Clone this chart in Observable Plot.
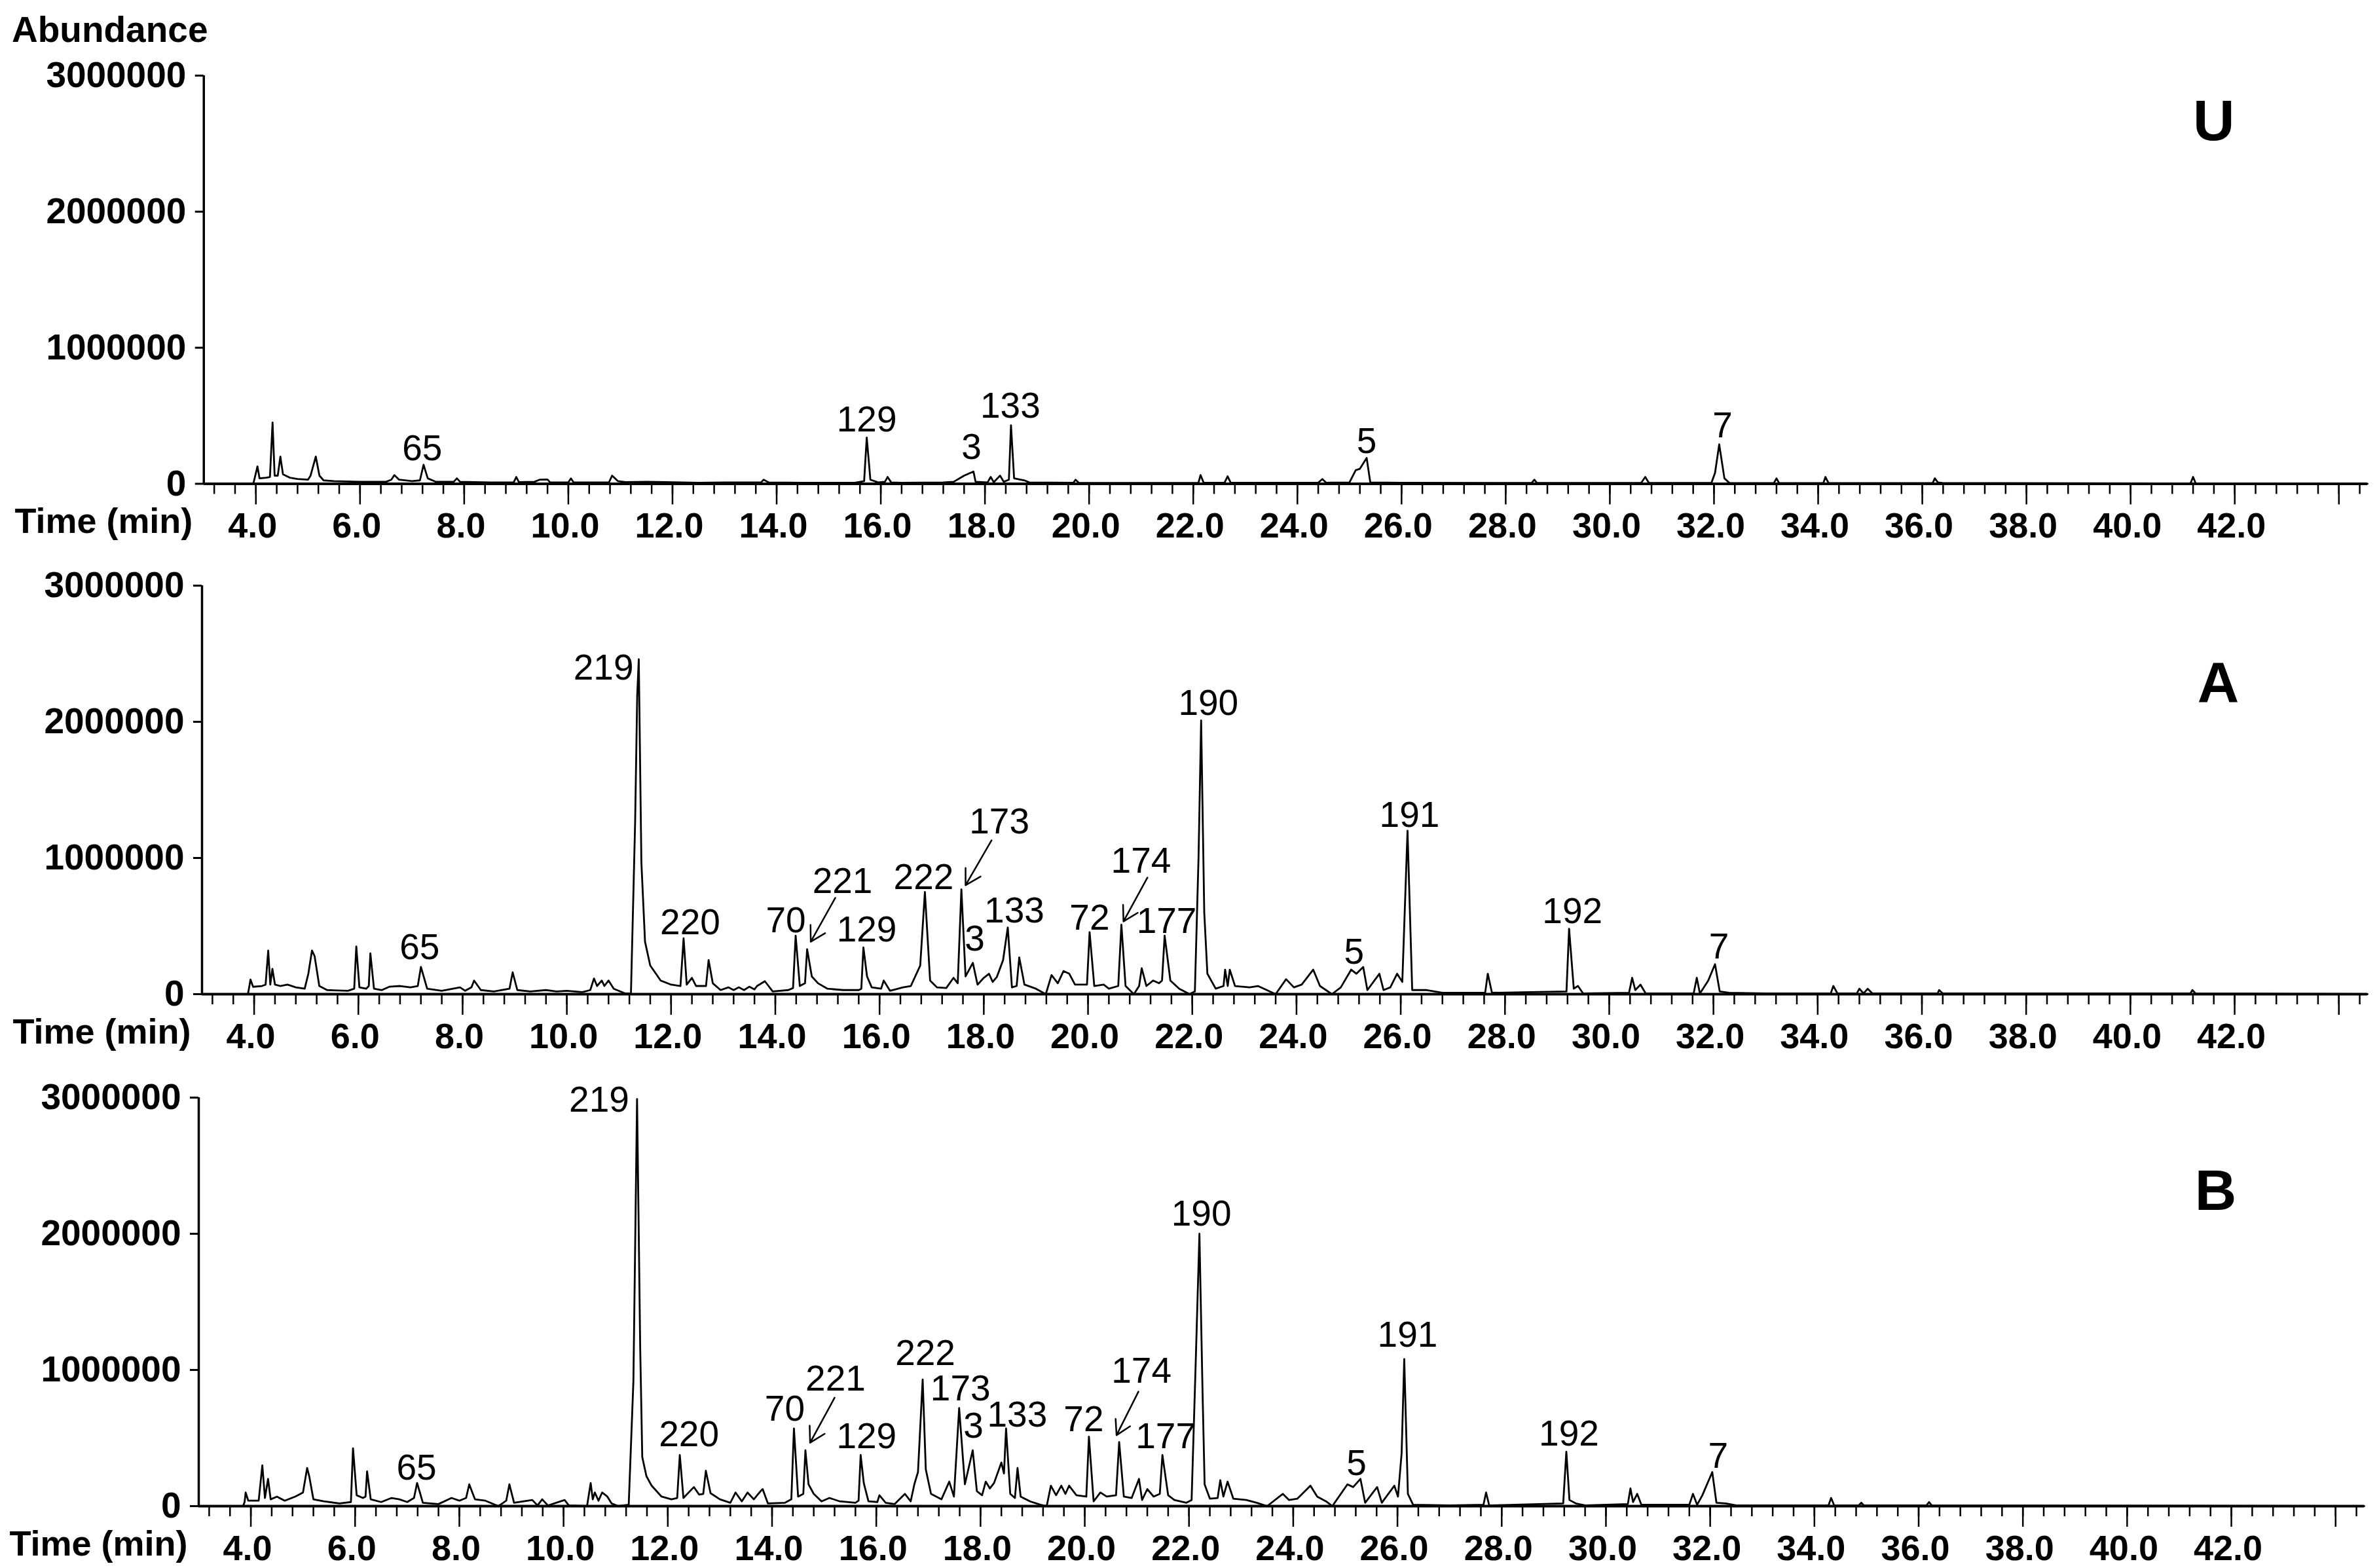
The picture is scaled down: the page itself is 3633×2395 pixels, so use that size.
<!DOCTYPE html>
<html><head><meta charset="utf-8">
<script src="https://cdn.jsdelivr.net/npm/d3@7"></script>
<script src="https://cdn.jsdelivr.net/npm/@observablehq/plot@0.6"></script>
<style>
html,body{margin:0;padding:0;background:#fff;}
body{width:3633px;height:2395px;position:relative;overflow:hidden;font-family:"Liberation Sans",Arial,sans-serif;}
.panel{position:absolute;}
#abund{position:absolute;left:18px;top:18px;font-size:55px;font-weight:bold;line-height:55px;color:#000;}
</style></head><body>
<div id="abund">Abundance</div>
<div id="pU" class="panel"></div>
<div id="pA" class="panel"></div>
<div id="pB" class="panel"></div>
<script>
// ---------- axis ticks ----------
const yTicks = [0, 1000000, 2000000, 3000000];
const xLabelTicks = [4, 6, 8, 10, 12, 14, 16, 18, 20, 22, 24, 26, 28, 30, 32, 34, 36, 38, 40, 42];
const xMajorTicks = [4, 6, 8, 10, 12, 14, 16, 18, 20, 22, 24, 26, 28, 30, 32, 34, 36, 38, 40, 42, 44];
const xMinorTicks = d3.range(8, 112).map(i => +(i * 0.4).toFixed(1));

// ---------- traces [time (min), abundance] ----------
const traceU = [
[3.0,0],[3.95,0],[3.97,30000],[4.03,128000],[4.07,40000],[4.2,45000],[4.27,50000],[4.32,450000],[4.36,60000],[4.42,60000],[4.47,200000],[4.52,70000],[4.65,45000],[4.8,35000],[5.0,30000],[5.05,60000],[5.15,200000],[5.22,60000],[5.3,25000],[5.5,20000],[6.0,15000],[6.5,15000],[6.6,30000],[6.66,64000],[6.75,30000],[7.0,20000],[7.15,25000],[7.22,140000],[7.3,40000],[7.45,15000],[7.8,15000],[7.86,40000],[7.92,15000],[8.5,10000],[8.95,10000],[9.0,50000],[9.05,12000],[9.35,15000],[9.45,30000],[9.6,32000],[9.65,10000],[10.0,10000],[10.05,40000],[10.1,10000],[10.78,10000],[10.84,60000],[10.95,20000],[11.1,12000],[11.5,15000],[12.5,8000],[13.0,10000],[13.7,10000],[13.75,30000],[13.85,10000],[14.5,8000],[15.5,8000],[15.68,20000],[15.73,340000],[15.8,30000],[15.95,10000],[16.08,15000],[16.13,50000],[16.2,10000],[16.4,8000],[17.2,10000],[17.4,15000],[17.6,60000],[17.78,90000],[17.82,15000],[18.05,10000],[18.11,50000],[18.17,12000],[18.29,60000],[18.36,15000],[18.46,30000],[18.5,430000],[18.56,40000],[18.76,25000],[18.85,10000],[19.7,8000],[19.74,30000],[19.8,8000],[21.0,6000],[22.1,8000],[22.14,64000],[22.2,8000],[22.6,8000],[22.66,55000],[22.72,8000],[24.4,8000],[24.48,35000],[24.55,8000],[25.0,10000],[25.12,100000],[25.2,110000],[25.33,190000],[25.4,10000],[26.0,8000],[28.5,6000],[28.55,30000],[28.6,6000],[30.6,6000],[30.68,50000],[30.75,6000],[31.95,6000],[32.02,80000],[32.1,290000],[32.2,40000],[32.3,5000],[33.15,5000],[33.2,40000],[33.25,5000],[34.1,5000],[34.14,50000],[34.2,5000],[36.2,5000],[36.24,40000],[36.3,10000],[36.4,5000],[41.15,3000],[41.2,50000],[41.25,3000],[44.55,0]
];
const traceA = [
[3.0,0],[3.88,0],[3.9,40000],[3.93,107000],[3.98,54000],[4.15,60000],[4.22,70000],[4.27,320000],[4.31,70000],[4.35,186000],[4.4,70000],[4.5,60000],[4.64,70000],[4.8,50000],[4.97,40000],[5.04,150000],[5.11,320000],[5.16,280000],[5.25,60000],[5.4,30000],[5.8,25000],[5.92,40000],[5.96,350000],[6.02,50000],[6.15,40000],[6.2,60000],[6.23,300000],[6.3,40000],[6.45,30000],[6.6,55000],[6.8,60000],[7.0,50000],[7.14,60000],[7.2,200000],[7.32,40000],[7.6,25000],[7.95,50000],[8.05,25000],[8.17,50000],[8.22,100000],[8.35,30000],[8.6,20000],[8.9,40000],[8.96,160000],[9.05,30000],[9.3,20000],[9.6,30000],[9.8,20000],[10.0,25000],[10.3,15000],[10.45,30000],[10.52,115000],[10.58,60000],[10.67,100000],[10.72,60000],[10.8,100000],[10.9,40000],[11.12,5000],[11.23,5000],[11.31,1260000],[11.35,2190000],[11.38,2460000],[11.43,970000],[11.5,385000],[11.6,210000],[11.8,100000],[12.0,70000],[12.18,60000],[12.24,410000],[12.3,70000],[12.4,120000],[12.48,60000],[12.67,60000],[12.72,250000],[12.8,80000],[12.95,30000],[13.1,50000],[13.2,30000],[13.3,50000],[13.4,30000],[13.5,55000],[13.6,35000],[13.65,60000],[13.8,95000],[13.95,20000],[14.25,30000],[14.34,45000],[14.39,430000],[14.47,60000],[14.57,80000],[14.61,330000],[14.7,130000],[14.82,80000],[15.0,40000],[15.3,30000],[15.6,30000],[15.65,40000],[15.69,343000],[15.76,130000],[15.85,50000],[16.03,40000],[16.08,100000],[16.2,25000],[16.45,50000],[16.6,60000],[16.78,210000],[16.87,750000],[16.97,100000],[17.1,50000],[17.28,45000],[17.42,120000],[17.5,80000],[17.57,770000],[17.65,130000],[17.79,230000],[17.88,70000],[18.0,120000],[18.1,150000],[18.17,90000],[18.25,126000],[18.37,250000],[18.46,490000],[18.54,50000],[18.63,60000],[18.68,270000],[18.78,70000],[19.0,40000],[19.19,0],[19.3,140000],[19.42,80000],[19.53,170000],[19.64,150000],[19.75,70000],[19.98,70000],[20.03,455000],[20.12,60000],[20.3,70000],[20.4,40000],[20.58,60000],[20.64,510000],[20.72,60000],[20.88,0],[20.98,60000],[21.03,190000],[21.12,60000],[21.25,100000],[21.36,80000],[21.42,100000],[21.47,430000],[21.58,100000],[21.75,40000],[21.95,0],[22.05,20000],[22.12,1000000],[22.17,2010000],[22.23,600000],[22.29,150000],[22.45,40000],[22.6,60000],[22.63,180000],[22.68,60000],[22.72,180000],[22.82,60000],[23.1,50000],[23.26,60000],[23.6,0],[23.8,110000],[23.95,50000],[24.1,70000],[24.32,180000],[24.45,60000],[24.68,0],[24.85,50000],[25.05,180000],[25.15,150000],[25.28,200000],[25.36,30000],[25.59,150000],[25.67,30000],[25.8,50000],[25.93,150000],[26.03,90000],[26.13,1200000],[26.22,30000],[26.5,30000],[26.8,10000],[27.62,10000],[27.67,150000],[27.75,10000],[28.5,15000],[29.18,20000],[29.23,480000],[29.32,40000],[29.4,60000],[29.5,5000],[30.38,10000],[30.44,120000],[30.5,30000],[30.6,70000],[30.7,5000],[31.62,5000],[31.68,120000],[31.74,5000],[31.9,100000],[32.03,220000],[32.12,20000],[32.3,10000],[33.0,5000],[34.25,5000],[34.3,60000],[34.38,5000],[34.75,5000],[34.8,40000],[34.88,5000],[34.96,40000],[35.05,5000],[36.3,5000],[36.33,30000],[36.4,5000],[41.15,5000],[41.19,30000],[41.25,5000],[44.55,0]
];
const traceB = [
[3.0,0],[3.85,0],[3.88,30000],[3.9,100000],[3.95,40000],[4.15,40000],[4.22,300000],[4.27,60000],[4.33,200000],[4.38,50000],[4.5,70000],[4.65,40000],[4.85,70000],[5.0,100000],[5.08,280000],[5.12,220000],[5.2,50000],[5.4,35000],[5.7,20000],[5.92,30000],[5.96,425000],[6.03,80000],[6.15,60000],[6.2,70000],[6.23,255000],[6.3,50000],[6.5,30000],[6.7,60000],[6.85,50000],[7.0,30000],[7.13,60000],[7.19,170000],[7.3,25000],[7.6,15000],[7.85,60000],[8.0,40000],[8.13,60000],[8.19,160000],[8.3,50000],[8.5,40000],[8.75,0],[8.9,40000],[8.96,160000],[9.05,25000],[9.4,45000],[9.5,5000],[9.59,50000],[9.7,5000],[10.02,45000],[10.1,5000],[10.45,0],[10.52,170000],[10.56,50000],[10.6,100000],[10.67,40000],[10.74,100000],[10.84,70000],[10.92,20000],[11.05,0],[11.25,10000],[11.34,920000],[11.41,2990000],[11.47,1170000],[11.51,360000],[11.59,220000],[11.69,150000],[11.88,70000],[12.07,50000],[12.18,60000],[12.23,376000],[12.3,60000],[12.5,140000],[12.6,85000],[12.68,90000],[12.73,260000],[12.82,95000],[13.0,50000],[13.2,25000],[13.3,100000],[13.42,35000],[13.53,100000],[13.65,50000],[13.78,110000],[13.82,125000],[13.92,20000],[14.25,25000],[14.37,50000],[14.42,570000],[14.5,70000],[14.6,90000],[14.64,410000],[14.7,160000],[14.8,90000],[14.95,35000],[15.1,60000],[15.3,35000],[15.6,25000],[15.66,40000],[15.7,375000],[15.76,170000],[15.85,35000],[16.02,30000],[16.06,80000],[16.18,25000],[16.35,15000],[16.55,90000],[16.66,35000],[16.73,160000],[16.8,250000],[16.89,930000],[16.95,270000],[17.05,90000],[17.25,50000],[17.4,180000],[17.49,70000],[17.59,720000],[17.7,160000],[17.85,410000],[17.93,110000],[18.03,80000],[18.1,180000],[18.18,130000],[18.26,170000],[18.4,320000],[18.45,240000],[18.49,570000],[18.57,90000],[18.66,60000],[18.71,280000],[18.77,70000],[18.95,35000],[19.15,10000],[19.27,0],[19.35,150000],[19.45,80000],[19.55,150000],[19.63,90000],[19.7,150000],[19.84,80000],[20.03,70000],[20.08,510000],[20.17,35000],[20.3,100000],[20.42,70000],[20.6,80000],[20.66,470000],[20.75,70000],[20.9,60000],[21.04,200000],[21.1,45000],[21.2,125000],[21.32,70000],[21.44,90000],[21.49,375000],[21.6,80000],[21.72,45000],[21.95,25000],[22.05,45000],[22.13,1070000],[22.2,2000000],[22.26,840000],[22.3,160000],[22.4,55000],[22.55,60000],[22.6,190000],[22.66,70000],[22.74,180000],[22.85,55000],[23.1,45000],[23.3,25000],[23.5,0],[23.8,90000],[23.92,45000],[24.08,55000],[24.33,150000],[24.46,70000],[24.63,35000],[24.75,0],[25.04,160000],[25.15,140000],[25.29,200000],[25.38,25000],[25.61,140000],[25.7,25000],[25.94,150000],[26.01,70000],[26.08,390000],[26.13,1080000],[26.2,90000],[26.3,10000],[27.0,5000],[27.65,10000],[27.7,100000],[27.76,5000],[29.18,20000],[29.24,400000],[29.3,45000],[29.42,20000],[29.6,5000],[30.42,15000],[30.47,130000],[30.52,30000],[30.6,90000],[30.68,10000],[31.6,10000],[31.67,90000],[31.75,10000],[31.85,80000],[32.04,250000],[32.12,25000],[32.3,20000],[32.5,5000],[34.27,5000],[34.32,60000],[34.38,5000],[34.85,5000],[34.9,25000],[34.95,5000],[36.15,5000],[36.2,30000],[36.25,5000],[44.55,0]
];

// ---------- peak labels [label, time, abundance at apex] ----------
const peaksU = [["65",7.22,140000],["129",15.73,340000],["3",17.78,90000],["133",18.5,430000],["5",25.33,190000],["7",32.1,290000]];
const peaksA = [["65",7.2,200000],["219",11.38,2460000],["220",12.24,410000],["70",14.39,430000],["221",14.61,330000],["129",15.69,343000],["222",16.87,750000],["173",17.57,770000],["3",17.79,230000],["133",18.46,490000],["72",20.03,455000],["174",20.64,510000],["177",21.47,430000],["190",22.17,2010000],["5",25.28,200000],["191",26.13,1200000],["192",29.23,480000],["7",32.03,220000]];
const peaksB = [["65",7.19,170000],["219",11.41,2990000],["220",12.23,376000],["70",14.42,570000],["221",14.64,410000],["129",15.7,375000],["222",16.89,930000],["173",17.59,720000],["3",17.85,410000],["133",18.49,570000],["72",20.08,510000],["174",20.66,470000],["177",21.49,375000],["190",22.2,2000000],["5",25.29,200000],["191",26.13,1080000],["192",29.24,400000],["7",32.04,250000]];

// ---------- arrows [t1, v1, t2, v2] (label side -> peak) ----------
const arrowsA = [[15.15,707000,14.68,385000],[18.15,1130000,17.65,800000],[21.14,856000,20.68,534000]];
const arrowsB = [[15.2,796000,14.73,466000],[21.03,841000,20.61,521000]];

// ---------- label placement (pixel offsets; style only) ----------
const offU = {"65":[-2,-24],"129":[0,-27],"3":[-3,-37],"133":[-1,-29],"5":[0,-25],"7":[5,-28]};
const offA = {"65":[-2,-30],"219":[-8,14,"end"],"220":[10,-24],"70":[-15,-23],"221":[54,-103],"129":[5,-27],"222":[-2,-22],"173":[58,-103],"3":[3,-36],"133":[10,-25],"72":[0,-21],"174":[30,-97],"177":[3,-22],"190":[11,-26],"5":[-14,-23],"191":[3,-24],"192":[5,-26],"7":[6,-26]};
const offB = {"65":[-1,-23],"219":[-12,2,"end"],"220":[14,-31],"70":[-14,-30],"221":[46,-109],"129":[9,-28],"222":[4,-40],"173":[2,-29],"3":[1,-37],"133":[17,-21],"72":[-8,-26],"174":[34,-108],"177":[5,-28],"190":[3,-30],"5":[-6,-24],"191":[5,-36],"192":[4,-27],"7":[9,-24]};

const FONT = "'Liberation Sans', Arial, Helvetica, sans-serif";

function panel(trace, peaks, offs, arrows, letter, letterOff) {
  const labelMarks = peaks.map(p => {
    const o = offs[p[0]] || [0, -25];
    return Plot.text([p], {x: d => d[1], y: d => d[2], text: d => d[0], dx: o[0], dy: o[1],
      textAnchor: o[2] || "middle", lineAnchor: "middle", fontSize: 55, fill: "black"});
  });
  return Plot.plot({
    width: 3633, height: 754,
    marginLeft: 308, marginRight: 18, marginTop: 40, marginBottom: 90,
    x: {domain: [3, 44.55], axis: null},
    y: {domain: [0, 3000000], axis: null},
    style: {fontFamily: FONT, background: "white", color: "black", overflow: "visible"},
    marks: [
      Plot.axisY(yTicks, {tickSize: 13, tickPadding: 14, tickFormat: d => String(d), fontSize: 55, fontWeight: "bold", strokeWidth: 3, label: null}),
      Plot.axisX(xMinorTicks, {tickSize: 16, tickFormat: () => "", strokeWidth: 2.5, label: null}),
      Plot.axisX(xMajorTicks, {tickSize: 32, tickFormat: () => "", strokeWidth: 2.5, label: null}),
      Plot.axisX(xLabelTicks, {tickSize: 0, tickPadding: 44, tickFormat: d => d.toFixed(1), fontSize: 54, fontWeight: "bold", dx: -5, label: null}),
      Plot.ruleX([3], {y1: 0, y2: 3000000, strokeWidth: 3.5}),
      Plot.ruleY([0], {strokeWidth: 4}),
      Plot.line(trace, {x: d => d[0], y: d => d[1], stroke: "black", strokeWidth: 2.8}),
      ...labelMarks,
      Plot.arrow(arrows, {x1: d => d[0], y1: d => d[1], x2: d => d[2], y2: d => d[3], stroke: "black", strokeWidth: 2.5, headLength: 16}),
      Plot.text(["Time (min)"], {frameAnchor: "bottom-left", text: d => d, textAnchor: "end", lineAnchor: "middle", dx: -17, dy: 58, fontSize: 54, fontWeight: "bold"}),
      Plot.text([letter], {frameAnchor: "top-right", text: d => d, textAnchor: "middle", lineAnchor: "middle", dx: letterOff[0], dy: letterOff[1], fontSize: 88, fontWeight: "bold"})
    ]
  });
}

function place(id, chart, left, top) {
  const el = document.getElementById(id);
  el.style.left = left + "px";
  el.style.top = top + "px";
  el.appendChild(chart);
}

place("pU", panel(traceU, peaksU, offU, [], "U", [-235, 70]), 3, 75);
place("pA", panel(traceA, peaksA, offA, arrowsA, "A", [-228, 149]), 0, 854);
place("pB", panel(traceB, peaksB, offB, arrowsB, "B", [-227, 143]), -5, 1636);
</script>
</body></html>
